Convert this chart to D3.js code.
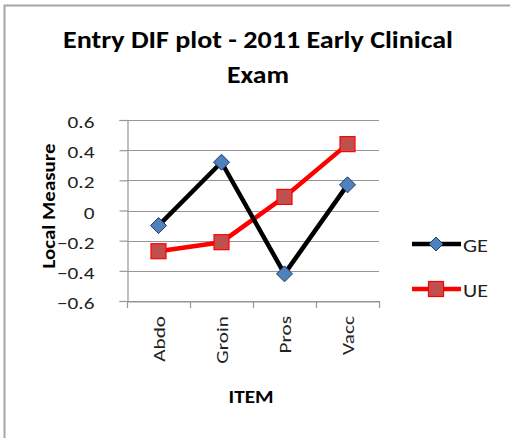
<!DOCTYPE html>
<html>
<head>
<meta charset="utf-8">
<script src="https://cdn.jsdelivr.net/npm/d3@7"></script>
<style>
  body { margin: 0; background: #fff; }
  svg { display: block; font-family: Carlito, Calibri, "Liberation Sans", sans-serif; }
</style>
</head>
<body>
<div id="chart"></div>
<script>
const items = ["Abdo", "Groin", "Pros", "Vacc"];
const geValues = [-0.10, 0.32, -0.42, 0.17];
const ueValues = [-0.27, -0.21, 0.09, 0.44];
const yTicks = [0.6, 0.4, 0.2, 0, -0.2, -0.4, -0.6];

const W = 510, H = 438;
const plot = { left: 127, right: 379, top: 120, bottom: 301 };
const FONT = "Carlito, Calibri, 'Liberation Sans', sans-serif";
const WIDEN = 1.25; // the reference text runs wider than plain Calibri

const svg = d3.select("#chart").append("svg")
    .attr("width", W)
    .attr("height", H);

svg.append("rect").attr("width", W).attr("height", H).attr("fill", "#fff");

// outer frame (only the top and left edges are visible)
svg.append("path")
    .attr("d", `M4.5,${H} V5.5 H${W}`)
    .attr("fill", "none")
    .attr("stroke", "#a6a6a6")
    .attr("stroke-width", 2);

function widen(sel, f) {
    sel.each(function () {
        const len = this.getComputedTextLength();
        d3.select(this).attr("textLength", len * f).attr("lengthAdjust", "spacingAndGlyphs");
    });
}

const x = d3.scaleBand()
    .domain(items)
    .range([plot.left, plot.right]);

const y = d3.scaleLinear()
    .domain([-0.6, 0.6])
    .range([plot.bottom, plot.top]);

// title
svg.append("text")
    .attr("x", 258).attr("y", 48)
    .attr("text-anchor", "middle")
    .attr("font-size", 24).attr("font-weight", "bold")
    .attr("textLength", 390).attr("lengthAdjust", "spacingAndGlyphs")
    .text("Entry DIF plot - 2011 Early Clinical");
svg.append("text")
    .attr("x", 258).attr("y", 83)
    .attr("text-anchor", "middle")
    .attr("font-size", 24).attr("font-weight", "bold")
    .attr("textLength", 62).attr("lengthAdjust", "spacingAndGlyphs")
    .text("Exam");

// gridlines
svg.append("g")
    .selectAll("line")
    .data(yTicks)
    .join("line")
    .attr("x1", plot.left).attr("x2", plot.right)
    .attr("y1", d => Math.round(y(d)) + 0.5).attr("y2", d => Math.round(y(d)) + 0.5)
    .attr("stroke", "#969696").attr("stroke-width", 1.2);

// y axis
const yAxis = svg.append("g")
    .attr("transform", `translate(${plot.left + 0.5},0)`)
    .call(d3.axisLeft(y).tickValues(yTicks).tickSize(8).tickPadding(25)
        .tickFormat(d => d === 0 ? "0" : d3.format(".1f")(d)));
yAxis.select(".domain").attr("stroke", "#969696").attr("stroke-width", 1.2);
yAxis.selectAll(".tick line").attr("stroke", "#969696").attr("stroke-width", 1.2);
yAxis.selectAll(".tick text")
    .attr("font-size", 17).attr("fill", "#222")
    .attr("font-family", FONT)
    .attr("dy", "0.45em")
    .call(widen, WIDEN);

// x axis
const xAxis = svg.append("g")
    .attr("transform", `translate(0,${plot.bottom + 0.5})`)
    .call(d3.axisBottom(x).tickSize(0).tickFormat(""));
xAxis.select(".domain").attr("stroke", "#969696").attr("stroke-width", 1.2);

svg.append("g")
    .selectAll("line")
    .data(items.concat([null]))
    .join("line")
    .attr("x1", (d, i) => Math.round(plot.left + i * x.bandwidth()) + 0.5)
    .attr("x2", (d, i) => Math.round(plot.left + i * x.bandwidth()) + 0.5)
    .attr("y1", plot.bottom).attr("y2", plot.bottom + 7)
    .attr("stroke", "#969696").attr("stroke-width", 1.2);

svg.append("g")
    .selectAll("text")
    .data(items)
    .join("text")
    .attr("transform", d => `translate(${x(d) + x.bandwidth() / 2 + 6},${plot.bottom + 15}) rotate(-90)`)
    .attr("text-anchor", "end")
    .attr("font-size", 17).attr("fill", "#222")
    .text(d => d)
    .call(widen, WIDEN);

// axis titles
svg.append("text")
    .attr("transform", `translate(55,206) rotate(-90)`)
    .attr("text-anchor", "middle")
    .attr("font-size", 18).attr("font-weight", "bold")
    .attr("textLength", 125).attr("lengthAdjust", "spacingAndGlyphs")
    .text("Local Measure");

svg.append("text")
    .attr("x", 251).attr("y", 403)
    .attr("text-anchor", "middle")
    .attr("font-size", 19).attr("font-weight", "bold")
    .attr("textLength", 45).attr("lengthAdjust", "spacingAndGlyphs")
    .text("ITEM");

// series
const cx = d => x(d) + x.bandwidth() / 2;
const line = d3.line().x(d => cx(d.item)).y(d => y(d.v));

const ge = items.map((item, i) => ({ item, v: geValues[i] }));
const ue = items.map((item, i) => ({ item, v: ueValues[i] }));

svg.append("path").datum(ue)
    .attr("d", line).attr("fill", "none")
    .attr("stroke", "#ff0000").attr("stroke-width", 4.5).attr("stroke-linejoin", "round");

svg.append("path").datum(ge)
    .attr("d", line).attr("fill", "none")
    .attr("stroke", "#000").attr("stroke-width", 4.5).attr("stroke-linejoin", "round");

function square(g, px, py) {
    g.append("rect")
        .attr("x", px - 7.5).attr("y", py - 7.5)
        .attr("width", 15).attr("height", 15)
        .attr("fill", "#c0504d").attr("stroke", "#ff0000").attr("stroke-width", 1.2);
}
function diamond(g, px, py, r) {
    r = r || 8;
    g.append("path")
        .attr("d", `M${px},${py - r} L${px + r},${py} L${px},${py + r} L${px - r},${py} Z`)
        .attr("fill", "#4f81bd").attr("stroke", "#1f3b5f").attr("stroke-width", 1);
}

const ueMarks = svg.append("g");
ue.forEach(d => square(ueMarks, cx(d.item), y(d.v)));
const geMarks = svg.append("g");
ge.forEach(d => diamond(geMarks, cx(d.item), y(d.v)));

// legend
const legend = svg.append("g");
const legendRows = [
    { name: "GE", color: "#000", y: 244, mark: (g, px, py) => diamond(g, px, py, 7) },
    { name: "UE", color: "#ff0000", y: 289, mark: square }
];
legendRows.forEach(r => {
    legend.append("line")
        .attr("x1", 412).attr("x2", 461)
        .attr("y1", r.y).attr("y2", r.y)
        .attr("stroke", r.color).attr("stroke-width", 4.5);
    r.mark(legend, 436, r.y);
    legend.append("text")
        .attr("x", 463).attr("y", r.y + 8)
        .attr("font-size", 18).attr("fill", "#222")
        .attr("textLength", 25).attr("lengthAdjust", "spacingAndGlyphs")
        .text(r.name);
});
</script>
</body>
</html>
